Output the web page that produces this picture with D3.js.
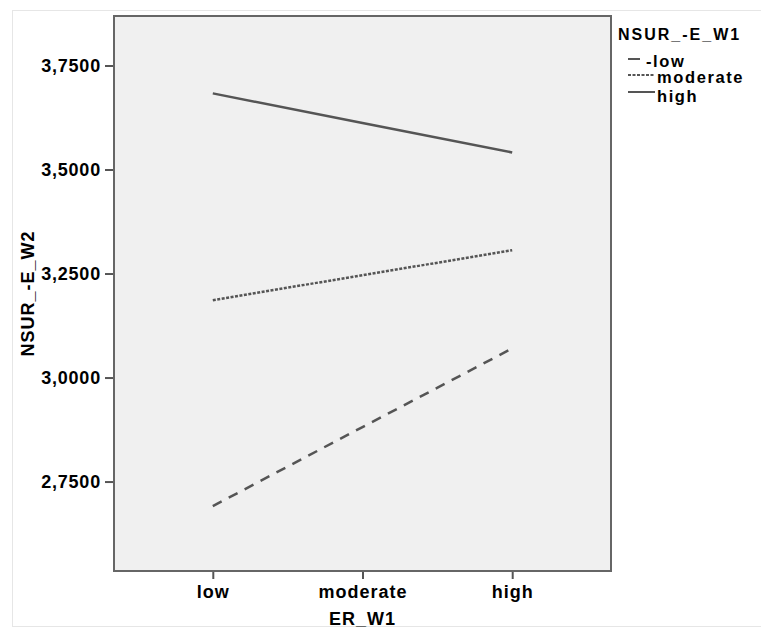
<!DOCTYPE html>
<html>
<head>
<meta charset="utf-8">
<script src="https://cdn.jsdelivr.net/npm/d3@7"></script>
<style>
body{margin:0;background:#fff;}
text{font-family:"Liberation Sans",Arial,sans-serif;font-weight:bold;fill:#000;}
</style>
</head>
<body>
<svg id="chart" width="761" height="629"></svg>
<script>
// data
var categories = ["low","moderate","high"];
var seriesNames = ["-low","moderate","high"];
var lowValues = [2.691, 2.881, 3.070];
var moderateValues = [3.186, 3.246, 3.306];
var highValues = [3.683, 3.612, 3.541];
var yTicks = [2.75, 3.0, 3.25, 3.5, 3.75];

var series = [
	{name: seriesNames[0], values: lowValues, dash: "10,8"},
	{name: seriesNames[1], values: moderateValues, dash: "3,1.5"},
	{name: seriesNames[2], values: highValues, dash: null}
];

var svg = d3.select("#chart");
var pLeft = 114, pRight = 611, pTop = 16, pBottom = 571;

// outer frame
svg.append("rect")
	.attr("x",12.5).attr("y",10.5)
	.attr("width",780).attr("height",616)
	.attr("fill","none").attr("stroke","#e6e6e6");

var x = d3.scalePoint().domain(categories).range([pLeft,pRight]).padding(0.66);
var y = d3.scaleLinear().domain([2.535,3.869]).range([pBottom,pTop]);

svg.append("rect")
	.attr("x",pLeft).attr("y",pTop)
	.attr("width",pRight-pLeft).attr("height",pBottom-pTop)
	.attr("fill","#f0f0f0").attr("stroke","#666").attr("stroke-width",2);

var fmt = function(d){ return d3.format(".4f")(d).replace(".",","); };

var yAxis = svg.append("g")
	.attr("transform","translate("+(pLeft-1)+",0)")
	.call(d3.axisLeft(y).tickValues(yTicks).tickSize(8).tickPadding(4).tickFormat(fmt));
yAxis.select(".domain").remove();
yAxis.selectAll("line").attr("stroke","#555").attr("stroke-width",2);
yAxis.selectAll("text")
	.attr("font-size","18px").attr("letter-spacing","0.8px")
	.style("font-family","Liberation Sans, Arial, sans-serif")
	.style("font-weight","bold").attr("fill","#000");

var xAxis = svg.append("g")
	.attr("transform","translate(0,"+(pBottom+1)+")")
	.call(d3.axisBottom(x).tickSize(7).tickPadding(6));
xAxis.select(".domain").remove();
xAxis.selectAll("line").attr("stroke","#555").attr("stroke-width",2);
xAxis.selectAll("text")
	.attr("font-size","18px").attr("letter-spacing","1px")
	.style("font-family","Liberation Sans, Arial, sans-serif")
	.style("font-weight","bold").attr("fill","#000");

// axis titles
svg.append("text")
	.attr("x",(pLeft+pRight)/2).attr("y",625)
	.attr("text-anchor","middle")
	.attr("font-size","18px").attr("letter-spacing","1px")
	.text("ER_W1");

svg.append("text")
	.attr("transform","translate(34,"+((pTop+pBottom)/2)+") rotate(-90)")
	.attr("text-anchor","middle")
	.attr("font-size","18px").attr("letter-spacing","1px")
	.text("NSUR_-E_W2");

// lines
var line = d3.line()
	.x(function(d,i){ return x(categories[i]); })
	.y(function(d){ return y(d); });

svg.selectAll(".series")
	.data(series)
	.enter()
	.append("path")
	.attr("class","series")
	.attr("d",function(d){ return line(d.values); })
	.attr("fill","none")
	.attr("stroke","#555")
	.attr("stroke-width",2.5)
	.attr("stroke-dasharray",function(d){ return d.dash; });

// legend
var lg = svg.append("g");
lg.append("text")
	.attr("x",618).attr("y",40)
	.attr("font-size","16px").attr("letter-spacing","2px")
	.text("NSUR_-E_W1");

var symY = [59,75,92];
var symLen = [12,27,27];
var txtX = [646,657,657];
var txtY = [67,83,102];
lg.selectAll(".sym")
	.data(series)
	.enter()
	.append("line")
	.attr("x1",628)
	.attr("x2",function(d,i){ return 628+symLen[i]; })
	.attr("y1",function(d,i){ return symY[i]; })
	.attr("y2",function(d,i){ return symY[i]; })
	.attr("stroke","#555")
	.attr("stroke-width",2)
	.attr("stroke-dasharray",function(d,i){ return i==1 ? "3,1.5" : null; });
lg.selectAll(".lbl")
	.data(series)
	.enter()
	.append("text")
	.attr("x",function(d,i){ return txtX[i]; })
	.attr("y",function(d,i){ return txtY[i]; })
	.attr("font-size","16.5px").attr("letter-spacing","1.6px")
	.text(function(d){ return d.name; });
</script>
</body>
</html>
